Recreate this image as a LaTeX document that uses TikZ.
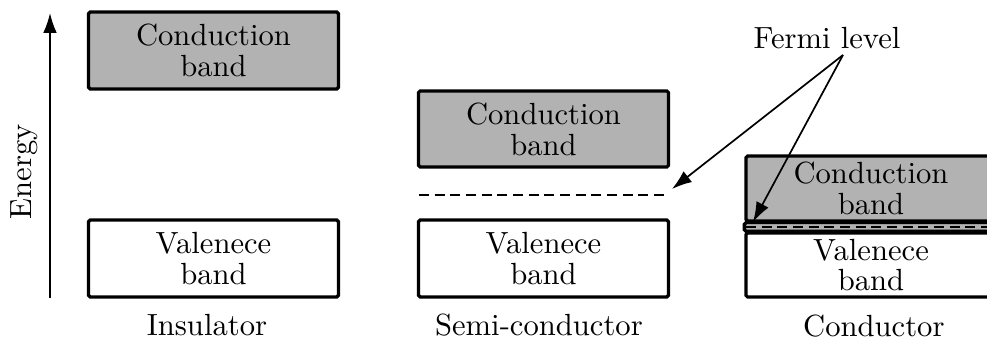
\documentclass[tikz,border=0pt]{standalone}
\usepackage{amsfonts,amssymb,amsmath}
\usepackage{tikz}
\usetikzlibrary{calc,positioning,arrows.meta}

\colorlet{bandgray}{black!30}
\tikzset{
	every node/.style={font=\fontsize{10.75}{10.8}\selectfont},
	band/.style={draw,line width=1.15pt,rounded corners=0.6pt,inner sep=0pt,
		minimum width=87.75pt,align=center},
	cband/.style={band,fill=bandgray},
	vband/.style={band,fill=white},
	flevel/.style={semithick,dash pattern=on 3.5pt off 2pt},
	pointer/.style={semithick,-{Latex[length=7pt,width=4.8pt]}}
}

\begin{document}
\begin{tikzpicture}[x=0.351pt,y=-0.351pt]
			\useasboundingbox (0,0) rectangle (987,338);
			\clip (0,0) rectangle (987,338);
			% energy axis
			\coordinate (ebot) at (50,298);
			\coordinate (etop) at (50,13);
			\draw[pointer] (ebot) -- (etop);
			\node[rotate=90] (energy) at (24,172) {Energy};
			% insulator
			\node[cband,minimum height=27pt] (cbI) at (213.5,50.5) {Conduction\\band};
			\node[vband,minimum height=27pt] (vbI) at (213.5,258.5) {Valenece\\band};
			\node (lI) [below=2pt of vbI,xshift=-2.3pt] {Insulator};
			% semi-conductor
			\node[cband,minimum height=26.7pt] (cbS) at (543.5,129) {Conduction\\band};
			\node[vband,minimum height=27pt] (vbS) at (543.5,258.5) {Valenece\\band};
			\node (lS) [below=2pt of vbS,xshift=-1.6pt] {Semi-conductor};
			\draw[flevel] (419,195) -- (669,195);
			% conductor
			\node[cband,minimum height=22.8pt] (cbC) at (871,188.5) {Conduction\\band};
			\node[vband,minimum height=22.5pt] (vbC) at (871,265) {Valenece\\band};
			\draw[band,fill=bandgray] (cbC.south west) rectangle (vbC.north east);
			\draw[flevel] (746,227) -- (996,227);
			\node (lC) [below=2pt of vbC,xshift=1pt] {Conductor};
			% fermi level
			\node (fermi) at (827,38) {Fermi level};
			\coordinate (fl) at (843,55);
			\coordinate (efS) at (672,189);
			\coordinate (efC) at (753,222);
			\path[pointer]
			(fl) edge (efS)
			(fl) edge (efC);
		\end{tikzpicture}
\end{document}
